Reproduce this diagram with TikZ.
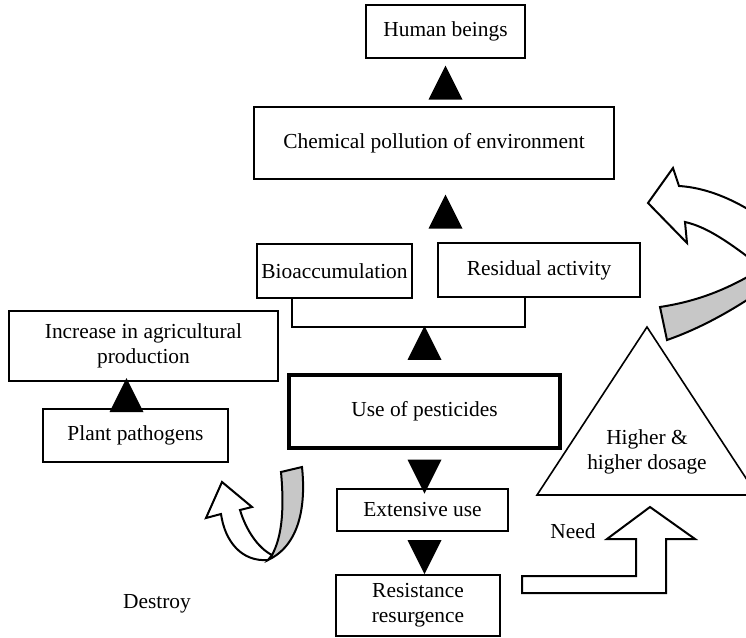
\documentclass[tikz,border=0pt]{standalone}
\usepackage{fontspec}
\setmainfont{Liberation Serif}
\usepackage{tikz}
\usetikzlibrary{calc}
\colorlet{ribbongray}{black!22}
\tikzset{
  box/.style={draw, line width=1pt, inner sep=2pt, align=center},
  mainbox/.style={draw, line width=2.4pt, inner sep=2pt},
  ribbon/.style={draw, line width=1pt, line join=miter}
}

\begin{document}
\begin{tikzpicture}[x=0.5pt,y=-0.5pt,font=\fontsize{10.7}{12.5}\selectfont]
        % FRAME
        \useasboundingbox (0,0) rectangle (746,638);
        \clip (0,0) rectangle (746,638);

        \def\uptri#1{\fill (#1) ++(-17,17) -- ++(34,0) -- ++(-17,-34) -- cycle;}
        \def\downtri#1{\fill (#1) ++(-17,-17) -- ++(34,0) -- ++(-17,34) -- cycle;}

        % BOXES
        \node[box, minimum width=79.5pt, minimum height=26.5pt] (human) at (445.5,31.5) {Human beings};
        \node[box, minimum width=180pt, minimum height=36pt] (chem) at (434,143) {Chemical pollution of environment};
        \node[box, minimum width=76.5pt, minimum height=27pt] (bio) at (334.5,271) {Bioaccumulation};
        \node[box, minimum width=101pt, minimum height=27pt] (resid) at (539,270) {Residual activity};
        \node[mainbox, minimum width=135.5pt, minimum height=36.5pt] (use) at (424.5,411.5) {Use of pesticides};
        \node[box, minimum width=85.5pt, minimum height=21pt] (ext) at (422.5,510) {Extensive use};
        \node[box, minimum width=82pt, minimum height=30.5pt] (resist) at (418,605.5) {Resistance\\resurgence};
        \node[box, minimum width=134.5pt, minimum height=35pt] (incr) at (143.5,346) {Increase in agricultural\\production};
        \node[box, minimum width=92.5pt, minimum height=26.5pt] (plant) at (135.5,435.5) {Plant pathogens};

        % BRACKET
        \coordinate (brL) at (292,327);
        \coordinate (brR) at (525,327);
        \draw[line width=1pt] (bio.south -| brL) -- (brL) -- (brR) -- (resid.south -| brR);

        % ARROW HEADS
        \uptri{$(human.south)!0.5!(chem.north -| human.south)$}
        \uptri{$(chem.south -| human.south)!0.5!(bio.north -| human.south)$}
        \uptri{$(brL -| use.north)!0.35!(use.north)$}
        \downtri{$(use.south)!0.7!(ext.north -| use.south)$}
        \downtri{$(ext.south -| use.south)!0.6!(resist.north -| use.south)$}
        \uptri{$(plant.north)!0.5!(incr.south -| plant.north)+(-9,0)$}

        % DOSAGE
        \draw[line width=0.8pt, line join=miter] (647,327) -- (757,495) -- (537,495) -- cycle;
        \node[align=center] (dosage) at (647,452) {Higher \&\\higher dosage};

        % NEED
        \draw[ribbon, fill=white] (522,593) -- (522,576) -- (636,576) -- (636,539) -- (607,539)
            -- (650,507) -- (695,539) -- (666,539) -- (666,593) -- cycle;
        \node (need) at (573,531) {Need};

        % TOP RIGHT TURN
        \draw[ribbon, fill=ribbongray] (660,307) .. controls (705,300) and (740,285) .. (790,250)
            -- (790,270) .. controls (750,300) and (710,325) .. (667,340) -- cycle;
        \draw[ribbon, fill=white] (648,203) -- (673,168) -- (679,186) .. controls (712,188) and (750,205) .. (790,240)
            -- (790,290) .. controls (740,250) and (712,228) .. (685,222) -- (687,243) -- cycle;

        % BOTTOM LEFT TURN
        \draw[ribbon, fill=ribbongray] (281,472) -- (302,467) .. controls (306,505) and (300,545) .. (268,560)
            -- (272,555) .. controls (283,535) and (284,505) .. cycle;
        \draw[ribbon, fill=white] (221,514) -- (206,518) -- (222,482) -- (252,507) -- (240,510)
            .. controls (246,530) and (258,548) .. (272,555) -- (268,560)
            .. controls (242,562) and (225,542) .. cycle;
        \node (destroy) at (157,604) {Destroy};

\end{tikzpicture}
\end{document}
